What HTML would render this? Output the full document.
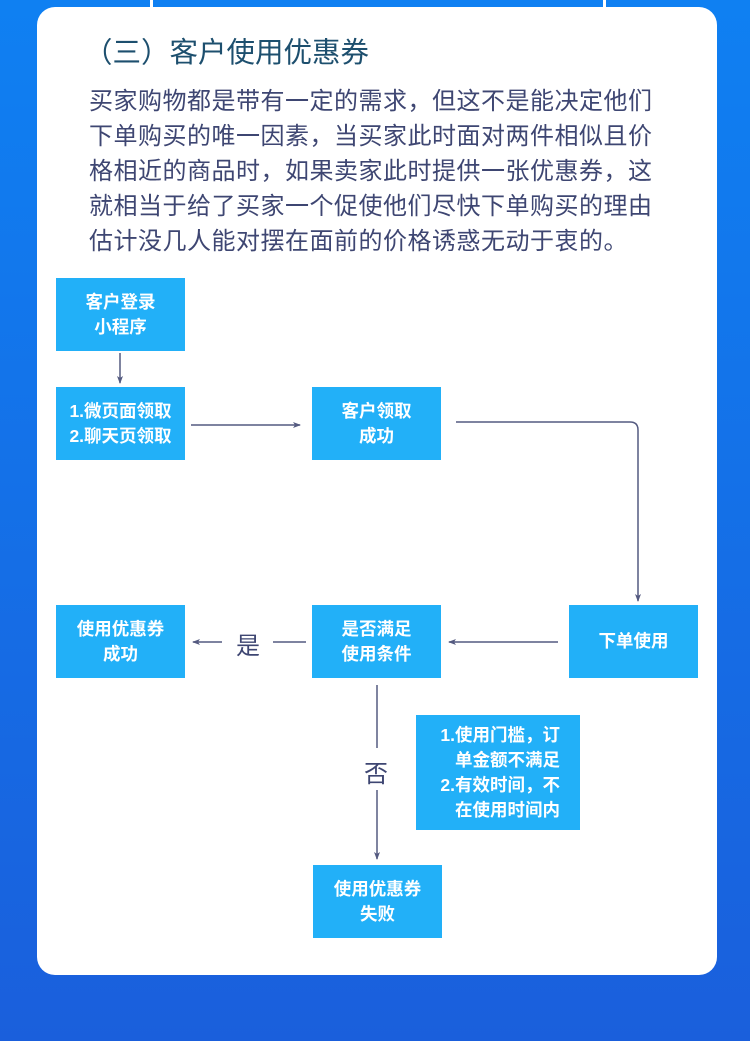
<!DOCTYPE html>
<html><head><meta charset="utf-8"><style>
body{margin:0;width:750px;height:1041px;overflow:hidden;background:linear-gradient(#0f80f2,#1a5fdc);font-family:"Liberation Sans","Noto Sans CJK SC",sans-serif;position:relative}
.card{position:absolute;left:37px;top:7px;width:680px;height:968px;background:#fff;border-radius:18px}
.t{position:absolute;left:84px;top:30px;font-size:28.5px;color:#1d4f6e;white-space:nowrap}
.p{position:absolute;left:89px;top:84px;width:580px;font-size:24px;line-height:35px;color:#3e4672;letter-spacing:0.5px}
.b{position:absolute;background:#22b0f8;color:#fff;font-size:17.5px;line-height:25px;display:flex;align-items:center;justify-content:center;text-align:center;font-weight:bold}
.l{position:absolute;font-size:24px;color:#3e4672}
.v{position:absolute;top:0;width:3px;height:7px;background:#fff}
</style></head><body>
<div class="v" style="left:150px"></div><div class="v" style="left:603px"></div>
<div class="card"></div>
<div class="t">（三）客户使用优惠券</div>
<div class="p">买家购物都是带有一定的需求，但这不是能决定他们下单购买的唯一因素，当买家此时面对两件相似且价格相近的商品时，如果卖家此时提供一张优惠券，这就相当于给了买家一个促使他们尽快下单购买的理由估计没几人能对摆在面前的价格诱惑无动于衷的。</div>
<div class="b" style="left:56px;top:278px;width:129px;height:73px">客户登录<br>小程序</div>
<div class="b" style="left:56px;top:387px;width:129px;height:73px">1.微页面领取<br>2.聊天页领取</div>
<div class="b" style="left:312px;top:387px;width:129px;height:73px">客户领取<br>成功</div>
<div class="b" style="left:569px;top:605px;width:129px;height:73px">下单使用</div>
<div class="b" style="left:312px;top:605px;width:129px;height:73px">是否满足<br>使用条件</div>
<div class="b" style="left:56px;top:605px;width:129px;height:73px">使用优惠券<br>成功</div>
<div class="b" style="left:416px;top:715px;width:164px;height:115px;text-align:right;justify-content:flex-end;padding-right:20px;box-sizing:border-box">1.使用门槛，订<br>单金额不满足<br>2.有效时间，不<br>在使用时间内</div>
<div class="b" style="left:313px;top:865px;width:129px;height:73px">使用优惠券<br>失败</div>
<div class="l" style="left:236px;top:626px">是</div>
<div class="l" style="left:364px;top:754px">否</div>
<svg width="750" height="1041" style="position:absolute;left:0;top:0" fill="none" stroke="#545a80" stroke-width="1.5">
<defs><marker id="a" markerWidth="8" markerHeight="8" refX="7" refY="4" orient="auto" markerUnits="userSpaceOnUse"><path d="M0,1 L8,4 L0,7 L2,4Z" fill="#545a80" stroke="none"/></marker></defs>
<path d="M120,353 V383" marker-end="url(#a)"/>
<path d="M191,425 H300" marker-end="url(#a)"/>
<path d="M456,422 H630 Q638,422 638,430 V601" marker-end="url(#a)"/>
<path d="M558,642 H449" marker-end="url(#a)"/>
<path d="M306,642 H273"/>
<path d="M222,642 H193" marker-end="url(#a)"/>
<path d="M377,685 V748"/>
<path d="M377,790 V859" marker-end="url(#a)"/>
</svg>
</body></html>
